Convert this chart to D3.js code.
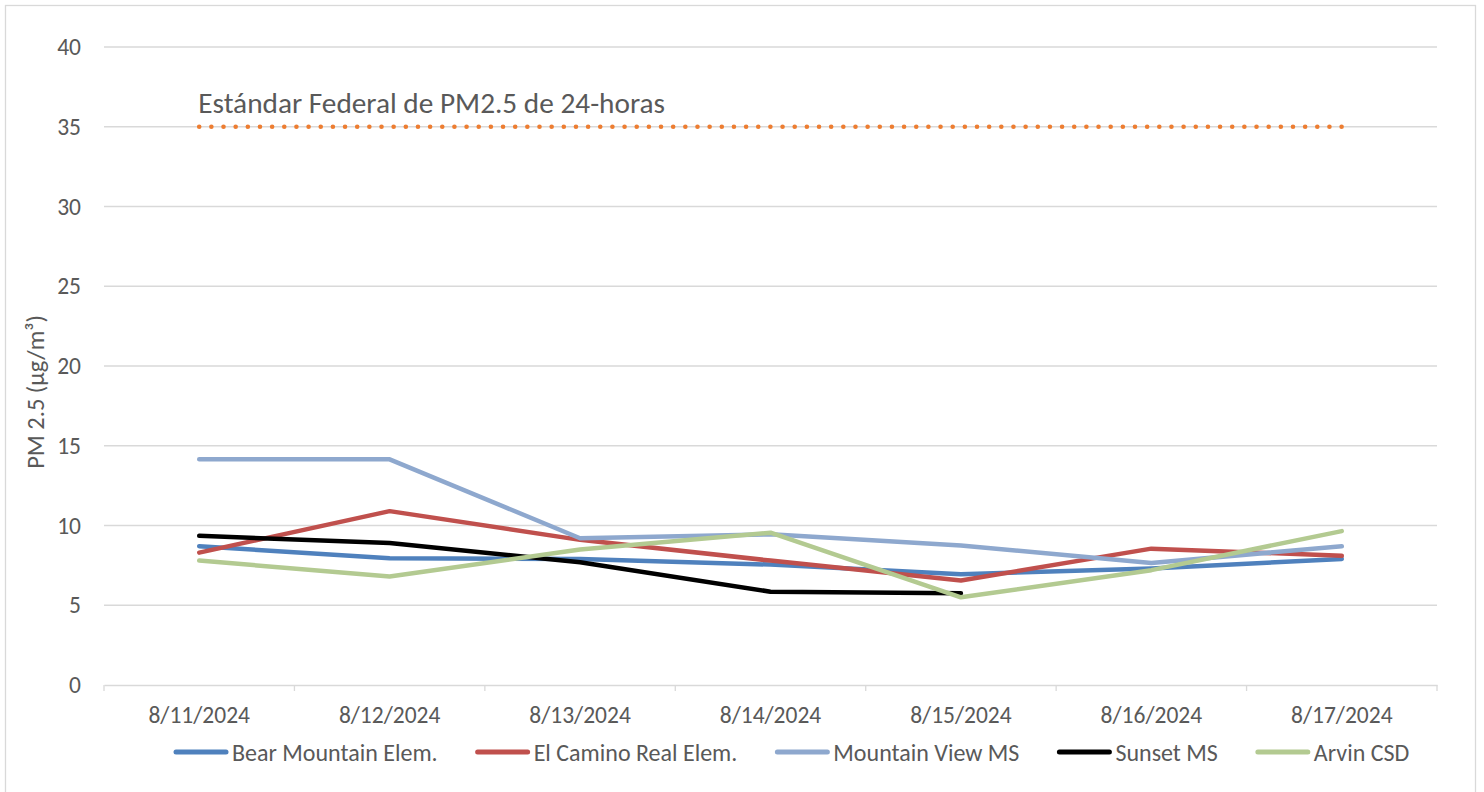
<!DOCTYPE html>
<html>
<head>
<meta charset="utf-8">
<script src="https://cdn.jsdelivr.net/npm/d3@7"></script>
<style>
  body { margin: 0; background: #fff; }
  svg text { font-family: Carlito, Calibri, Lato, sans-serif; fill: #595959; }
</style>
</head>
<body>
<svg id="chart" width="1484" height="792"></svg>
<script>
const dates = ["8/11/2024", "8/12/2024", "8/13/2024", "8/14/2024", "8/15/2024", "8/16/2024", "8/17/2024"];
const yTicks = [0, 5, 10, 15, 20, 25, 30, 35, 40];

const bearMountain = [8.7, 7.95, 7.9, 7.55, 6.95, 7.3, 7.9];
const elCamino     = [8.3, 10.9, 9.1, 7.8, 6.55, 8.55, 8.1];
const mountainView = [14.15, 14.15, 9.2, 9.45, 8.75, 7.65, 8.7];
const sunset       = [9.35, 8.9, 7.7, 5.85, 5.75, null, null];
const arvin        = [7.8, 6.8, 8.5, 9.55, 5.5, 7.2, 9.65];
const federalStd   = [35, 35, 35, 35, 35, 35, 35];

const seriesNames  = ["Bear Mountain Elem.", "El Camino Real Elem.", "Mountain View MS", "Sunset MS", "Arvin CSD"];
const seriesValues = [bearMountain, elCamino, mountainView, sunset, arvin];
const seriesColors = ["#4F81BD", "#C0504D", "#8EA8CE", "#000000", "#B3CA91"];
const stdLabel = "Estándar Federal de PM2.5 de 24-horas";
const yLabel = "PM 2.5 (µg/m³)";

(function () {
const svg = d3.select("#chart");
const pLeft = 104, pRight = 1437, pTop = 47, pBottom = 685;
const FONT = "Carlito, Calibri, Lato, sans-serif";
const FS = 23.5;

// chart border
svg.append("rect").attr("x", 5.5).attr("y", 5.5).attr("width", 1470).attr("height", 800)
  .attr("fill", "none").attr("stroke", "#d9d9d9").attr("stroke-width", 1.3);

const x = d3.scaleBand().domain(dates).range([pLeft, pRight]).padding(0);
const y = d3.scaleLinear().domain([0, 40]).range([pBottom, pTop]);
const cx = d => x(d) + x.bandwidth() / 2;

// gridlines
svg.append("g").selectAll("line").data(yTicks.filter(t => t > 0)).join("line")
  .attr("x1", pLeft).attr("x2", pRight)
  .attr("y1", d => y(d)).attr("y2", d => y(d))
  .attr("stroke", "#d9d9d9").attr("stroke-width", 1.3);

// y axis labels
const yAxis = d3.axisLeft(y).tickValues(yTicks).tickSize(0).tickPadding(23);
const gy = svg.append("g").attr("transform", `translate(${pLeft},0)`).call(yAxis);
gy.select(".domain").remove();
gy.selectAll("text").attr("font-size", FS).style("font-family", FONT).style("fill", "#595959");

// x axis
const xAxis = d3.axisBottom(x).tickSize(0).tickPadding(21);
const gx = svg.append("g").attr("transform", `translate(0,${pBottom})`).call(xAxis);
gx.select(".domain").attr("stroke", "#d9d9d9").attr("stroke-width", 1.3);
gx.selectAll("text").attr("font-size", FS).style("font-family", FONT).style("fill", "#595959");
// boundary tick marks
const bounds = dates.map(d => x(d)).concat([x(dates[dates.length - 1]) + x.bandwidth()]);
svg.append("g").selectAll("line").data(bounds).join("line")
  .attr("x1", d => d).attr("x2", d => d).attr("y1", pBottom).attr("y2", pBottom + 6)
  .attr("stroke", "#d9d9d9").attr("stroke-width", 1.3);

// y-axis title
svg.append("text")
  .attr("transform", `translate(44,392) rotate(-90)`)
  .attr("text-anchor", "middle").attr("font-size", 24.5).text(yLabel);

// federal standard line
const line = d3.line().defined(d => d.v != null).x(d => cx(d.d)).y(d => y(d.v));
const stdLen = cx(dates[dates.length - 1]) - cx(dates[0]);
const gap = stdLen / 94 - 0.002;
svg.append("path")
  .datum(dates.map((d, i) => ({ d, v: federalStd[i] })))
  .attr("d", line).attr("fill", "none")
  .attr("stroke", "#ED7D31").attr("stroke-width", 4.6)
  .attr("stroke-linecap", "round").attr("stroke-dasharray", `0,${gap}`);
svg.append("text").attr("x", cx(dates[0]) - 1).attr("y", y(35) - 14)
  .attr("font-size", 29.3).text(stdLabel);

// series lines
seriesValues.forEach((vals, i) => {
  svg.append("path")
    .datum(dates.map((d, j) => ({ d, v: vals[j] })))
    .attr("d", line).attr("fill", "none")
    .attr("stroke", seriesColors[i]).attr("stroke-width", 4.5)
    .attr("stroke-linejoin", "round").attr("stroke-linecap", "round");
});

// legend
const lg = svg.append("g");
let lx = 174;
const ly = 752;
seriesNames.forEach((name, i) => {
  lg.append("line").attr("x1", lx + 2).attr("x2", lx + 52).attr("y1", ly).attr("y2", ly)
    .attr("stroke", seriesColors[i]).attr("stroke-width", 5).attr("stroke-linecap", "round");
  const t = lg.append("text").attr("x", lx + 58).attr("y", ly + 8.5)
    .attr("font-size", 24).text(name);
  lx = lx + 58 + t.node().getComputedTextLength() + 38;
});
})();
</script>
</body>
</html>
